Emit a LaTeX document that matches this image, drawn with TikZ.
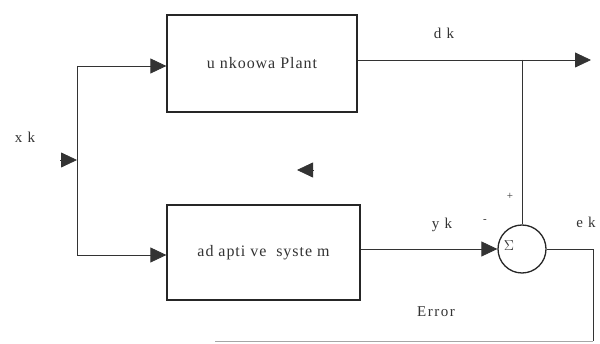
\documentclass[tikz,border=0pt]{standalone}
\usepackage{fontspec}
\setmainfont{Liberation Serif}
\usetikzlibrary{arrows.meta}
\begin{document}
\begin{tikzpicture}[x=1pt,y=-1pt,
  blk/.style={draw=black!85, line width=1.3pt, inner sep=0pt, font=\fontsize{16}{18}\selectfont\addfontfeature{LetterSpace=6}, text=black!80},
  wire/.style={draw=black!80, line width=0.8pt},
  arr/.style={wire, -{Triangle[length=16pt,width=15pt]}},
  faint/.style={draw=black!35, line width=0.7pt},
  lbl/.style={inner sep=0pt, font=\fontsize{15}{17}\selectfont\addfontfeature{LetterSpace=10}, text=black!80},
  sml/.style={inner sep=0pt, font=\fontsize{11}{13}\selectfont, text=black!80}]
\useasboundingbox[fill=white] (0,0) rectangle (600,344);
% blocks
\node[blk, minimum width=190pt, minimum height=97pt] (plant) at (262,63.5) {u nkoowa Plant};
\node[blk, minimum width=193pt, minimum height=95pt] (adapt) at (263.5,252.5) {ad apti ve \ syste m};
\node[circle, draw=black!85, line width=1.3pt, minimum size=48pt, inner sep=0pt] (sum) at (522,249) {};
\node[lbl] (sigma) at (509,246) {$\Sigma$};
% input splitting
\coordinate (top) at (77,66);
\coordinate (split) at (77,160);
\coordinate (bot) at (77,255);
\coordinate (xin) at (60,160);
\draw[wire] (top) -- (bot);
\draw[arr] (xin) -- (split);
\draw[arr] (top) -- (plant.west |- top);
\draw[arr] (bot) -- (adapt.west |- bot);
% plant output
\coordinate (dk) at (591,60);
\coordinate (tap) at (522,60);
\draw[arr] (plant.east |- dk) -- (dk);
\draw[wire] (tap) -- (sum.north);
% adaptive output
\draw[arr] (adapt.east |- sum) -- (sum.west);
% error path
\coordinate (c1) at (593,249);
\coordinate (c2) at (593,341);
\coordinate (c3) at (215,341);
\draw[wire] (sum.east) -- (c1) -- (c2);
\draw[faint] (c2) -- (c3);
% isolated arrowhead
\coordinate (fa) at (313,170);
\coordinate (fb) at (297,170);
\draw[arr] (fa) -- (fb);
% labels
\node[lbl] (lx) at (25,137) {x k};
\node[lbl] (ld) at (444,33) {d k};
\node[lbl] (ly) at (442,225) {y k};
\node[sml] (lm) at (485,221) {-};
\node[sml] (lp) at (510,196) {+};
\node[lbl] (le) at (586,222) {e k};
\node[lbl] (lerr) at (436,312) {Error};
\end{tikzpicture}
\end{document}
